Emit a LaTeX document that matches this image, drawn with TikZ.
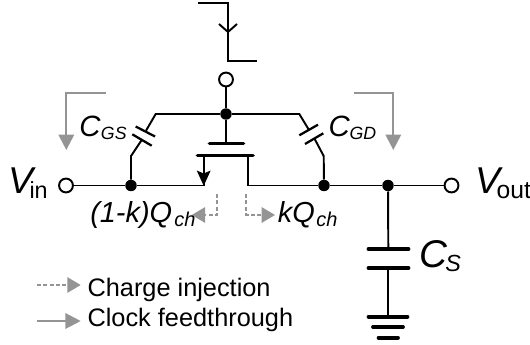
\documentclass[tikz,border=0pt]{standalone}
\usepackage{fontspec}
\setmainfont{Liberation Sans}
\usetikzlibrary{arrows.meta}
\definecolor{gr}{gray}{0.58}
\newcommand{\fsz}[1]{\fontsize{#1}{#1}\selectfont}
\tikzset{x=0.75pt,y=-0.75pt,
 wire/.style={line width=1.45pt,black,line join=miter},
 plate/.style={line width=1.7pt,black},
 tplate/.style={line width=2.8pt,black,line cap=round},
 dot/.style={circle,fill=black,inner sep=0,minimum size=8.6pt},
 term/.style={circle,draw=black,fill=white,line width=1.45pt,inner sep=0,minimum size=10.4pt},
 grar/.style={line width=1.7pt,gr,-{Triangle[length=11.5pt,width=11.5pt]}},
 gdash/.style={line width=1.3pt,gr,dash pattern=on 3pt off 1.8pt,-{Triangle[length=10pt,width=11.5pt]}},
 txt/.style={inner sep=0,anchor=base west},
}
\begin{document}
\begin{tikzpicture}
\useasboundingbox (0,0) rectangle (530,345);
% clock
\coordinate (c0) at (198,3); \coordinate (c1) at (228,3); \coordinate (c2) at (228,61); \coordinate (c3) at (257,61);
\draw[wire] (c0)--(c1)--(c2)--(c3);
\draw[wire] (219,24)--(228,32)--(237,24);
% gate
\node[term] (gt) at (226,79.5) {};
\node[dot] (gd) at (226,114) {};
\coordinate (gp) at (226,143.5);
\draw[wire] (gt)--(gd)--(gp);
\draw[tplate] (209.5,143.5)--(243.5,143.5);
\draw[tplate] (197.5,155.5)--(253,155.5);
% nodes on the signal rail
\node[term] (vi) at (66,185.5) {};
\node[dot] (n1) at (131,185.5) {};
\node[dot] (n2) at (324,185.5) {};
\node[dot] (n3) at (388,185.5) {};
\node[term] (vo) at (451.5,185.5) {};
% source and drain
\coordinate (sc) at (203.7,155.5); \coordinate (sb) at (203.7,185.5);
\coordinate (dc) at (247.7,155.5); \coordinate (db) at (247.7,185.5);
\draw[wire] (vi)--(n1)--(sb)--(sc);
\fill[black] (196.7,170.5)--(203.7,173.5)--(210.7,170.5)--(203.7,185.8)--cycle;
\draw[wire] (dc)--(db)--(n2)--(n3)--(vo);
% top rail
\coordinate (rl) at (155.7,114); \coordinate (rr) at (299.3,114);
\draw[wire] (gd)--(rl)--(146,130.7);
\draw[wire] (gd)--(rr)--(309,130);
% CGS
\draw[plate] (135.7,126.5)--(155,136.5);
\draw[plate] (132.3,134.3)--(151.7,145.7);
\draw[wire] (141.7,140)--(131,156)--(n1);
% CGD
\draw[plate] (299.3,135.3)--(318,124.7);
\draw[plate] (305,144)--(323.3,133.3);
\draw[wire] (314.3,138.3)--(323.7,156)--(n2);
% CS and ground
\coordinate (p1) at (388.3,249); \coordinate (p2) at (388.3,268); \coordinate (g1) at (388.3,316.7);
\draw[wire] (n3)--(p1);
\draw[wire] (p2)--(g1);
\draw[tplate] (368.5,249)--(408.5,249);
\draw[tplate] (368.5,268)--(408.5,268);
\draw[tplate] (368.5,316.7)--(407.5,316.7);
\draw[tplate] (373,327)--(403,327);
\draw[tplate] (378.5,337.7)--(398,337.7);
% gray arrows
\coordinate (a1) at (105.7,93); \coordinate (a2) at (66.3,93); \coordinate (a3) at (66.3,150);
\draw[grar] (a1)--(a2)--(a3);
\coordinate (b1) at (354,93); \coordinate (b2) at (393.3,93); \coordinate (b3) at (393.3,150);
\draw[grar] (b1)--(b2)--(b3);
\coordinate (d1) at (217.3,194); \coordinate (d2) at (217.3,215); \coordinate (d3) at (191.7,215);
\draw[gdash] (d1)--(d2)--(d3);
\coordinate (e1) at (246.3,194); \coordinate (e2) at (246.3,215); \coordinate (e3) at (275,215);
\draw[gdash] (e1)--(e2)--(e3);
\coordinate (l1) at (36.7,285); \coordinate (l2) at (80.7,285);
\draw[gdash] (l1)--(l2);
\coordinate (m1) at (36.7,321); \coordinate (m2) at (80.7,321);
\draw[grar] (m1)--(m2);
% labels
\node[txt] (cgs) at (79,136.7) {\fsz{22}\itshape C};
\node[txt] (cgss) at (100.7,139.5) {\fsz{13.3}\itshape GS};
\node[txt] (cgd) at (328.3,136.7) {\fsz{22}\itshape C};
\node[txt] (cgds) at (349.3,139.5) {\fsz{13.3}\itshape GD};
\node[txt] (vin) at (8,193.5) {\fsz{28}\itshape V\kern-2.7pt\raisebox{-3.6pt}{\fsz{17.5}\upshape in}};
\node[txt] (vou) at (475,193.5) {\fsz{28}\itshape V\kern-2.7pt\raisebox{-3.6pt}{\fsz{18.5}\upshape out}};
\node[txt] (cs) at (419,267.3) {\fsz{29}\itshape C};
\node[txt] (css) at (445,271.7) {\fsz{17.5}\itshape S};
\node[txt] (ql) at (90,222.7) {\fsz{21.7}\itshape (1-k)Q};
\node[txt] (qls) at (174,226.7) {\fsz{15}\itshape ch};
\node[txt] (qr) at (277.7,222.7) {\fsz{21.7}\itshape kQ};
\node[txt] (qrs) at (316,226.7) {\fsz{15}\itshape ch};
\node[txt] (t1) at (87.3,296.7) {\fsz{19}Charge injection};
\node[txt] (t2) at (87.3,326.7) {\fsz{19}Clock feedthrough};
\end{tikzpicture}
\end{document}
